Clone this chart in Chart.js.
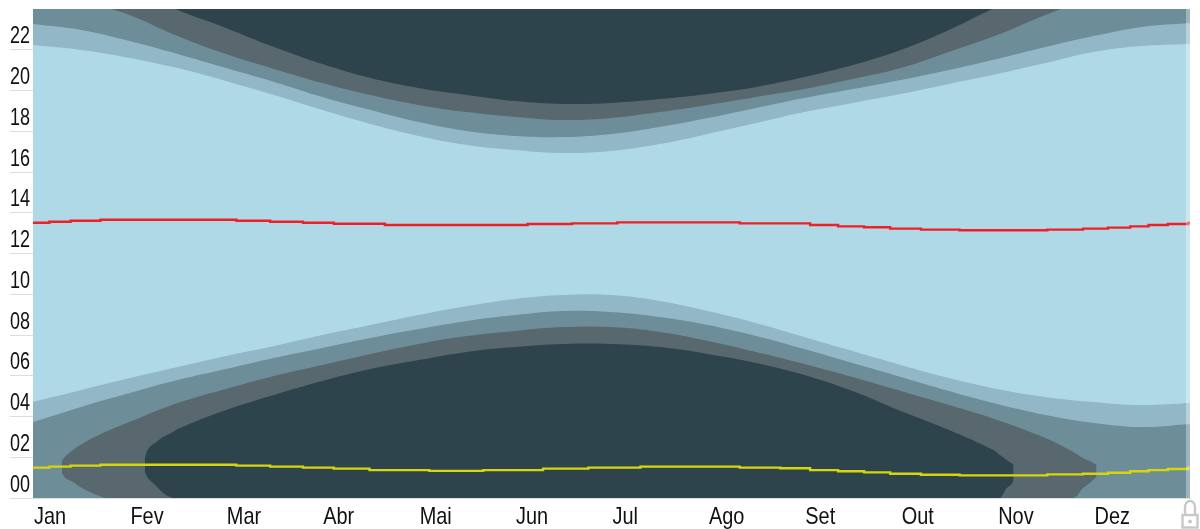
<!DOCTYPE html>
<html lang="pt">
<head>
  <meta charset="UTF-8">
  <title>Luz do dia</title>
  <style>
    html, body { margin: 0; padding: 0; background: #fff; overflow: hidden; }
    .chartBox { position: relative; width: 1200px; height: 529px; }
    .edgeStrip { position: absolute; left: 1186px; top: 9px; width: 4px; height: 489px; background: rgba(255, 255, 255, 0.35); }
    .lock { position: absolute; left: 1181px; top: 499px; }
  </style>
</head>
<body>
  <div class="chartBox">
    <canvas id="myChart"></canvas>
    <div class="edgeStrip"></div>
    <svg class="lock" width="18" height="30" viewBox="0 0 18 30">
      <path d="M4 16 V8 a5 6 0 0 1 10 0 V16" fill="none" stroke="#c8c8c8" stroke-width="2.4"/>
      <rect x="1.5" y="16" width="15" height="12.5" fill="none" stroke="#c8c8c8" stroke-width="2.4"/>
      <circle cx="9" cy="22.5" r="2" fill="#c8c8c8"/>
    </svg>
  </div>

<script src="https://cdn.jsdelivr.net/npm/chart.js/dist/chart.umd.min.js"></script>
<script>
  const monthLabels = ['Jan', 'Fev', 'Mar', 'Abr', 'Mai', 'Jun', 'Jul', 'Ago', 'Set', 'Out', 'Nov', 'Dez'];
  const hourTicks = ['00', '02', '04', '06', '08', '10', '12', '14', '16', '18', '20', '22', ''];

  // x in months (0 = start of Jan), y in hours of the day
  const gridMonths = [0, 0.5, 1, 1.5, 2, 2.5, 3, 3.5, 4, 4.5, 5, 5.5, 6, 6.5, 7, 7.5, 8, 8.5, 9, 9.5, 10, 10.5, 11, 11.5, 12];

  // morning edges
  const dawnLight = [4.71, 5.30, 5.89, 6.43, 6.97, 7.46, 8.00, 8.49, 8.98, 9.42, 9.77, 9.96, 9.96, 9.67, 9.18, 8.59, 7.90, 7.21, 6.53, 5.89, 5.35, 4.96, 4.71, 4.56, 4.66];
  const dawnCivil = [3.73, 4.47, 5.15, 5.79, 6.33, 6.87, 7.36, 7.85, 8.29, 8.69, 8.98, 9.18, 9.13, 8.88, 8.49, 7.95, 7.31, 6.62, 5.94, 5.25, 4.61, 4.07, 3.68, 3.48, 3.63];

  // evening edges (above 24 means past midnight)
  const duskLight = [22.23, 21.99, 21.60, 21.10, 20.47, 19.78, 19.04, 18.36, 17.77, 17.33, 17.08, 16.93, 17.03, 17.37, 17.87, 18.40, 18.94, 19.39, 19.83, 20.32, 20.81, 21.35, 21.89, 22.18, 22.28];
  const duskCivil = [23.26, 22.97, 22.43, 21.79, 21.10, 20.42, 19.68, 19.04, 18.45, 18.01, 17.77, 17.72, 17.87, 18.21, 18.65, 19.14, 19.63, 20.07, 20.52, 21.01, 21.55, 22.13, 22.67, 23.12, 23.31];
  const duskNautical = [25.5, 24.45, 23.71, 22.67, 21.79, 21.06, 20.37, 19.78, 19.29, 18.94, 18.70, 18.55, 18.65, 18.94, 19.29, 19.68, 20.07, 20.56, 21.10, 21.89, 22.72, 23.71, 24.5, 25, 25.5];
  const duskAstro = [28, 26, 25, 23.95, 23.07, 22.13, 21.30, 20.61, 20.12, 19.78, 19.48, 19.34, 19.39, 19.58, 19.83, 20.17, 20.66, 21.25, 21.99, 22.97, 24.1, 25, 26, 27, 28];

  // grey lens at the bottom
  const lensNauticalMonths = [0.30, 0.32, 0.35, 0.415, 0.49, 0.66, 0.77, 1, 1.5, 2, 2.5, 3, 3.5, 4, 4.5, 5, 5.5, 6, 6.5, 7, 7.5, 8, 8.5, 9, 9.5, 10, 10.5, 10.79, 10.89, 10.96, 11.03];
  const lensNauticalTop = [1.82, 1.96, 2.11, 2.36, 2.60, 3.04, 3.29, 3.73, 4.66, 5.35, 5.99, 6.53, 7.07, 7.56, 7.95, 8.20, 8.39, 8.39, 8.15, 7.71, 7.17, 6.58, 5.94, 5.25, 4.56, 3.83, 2.94, 2.26, 1.96, 1.81, 1.62];
  const lensNauticalBottom = [1.23, 1.08, 0.93, 0.79, 0.54, 0.15, 0, 0, 0, 0, 0, 0, 0, 0, 0, 0, 0, 0, 0, 0, 0, 0, 0, 0, 0, 0, 0, 0, 0.49, 0.74, 1.03];

  // dark lens at the bottom
  const lensAstroMonths = [1.16, 1.18, 1.21, 1.28, 1.35, 1.45, 1.5, 2, 2.5, 3, 3.5, 4, 4.5, 5, 5.5, 6, 6.5, 7, 7.5, 8, 8.5, 9, 9.5, 9.96, 10.03, 10.10, 10.15, 10.17];
  const lensAstroTop = [1.96, 2.26, 2.50, 2.75, 2.99, 3.24, 3.39, 4.32, 5.06, 5.74, 6.33, 6.77, 7.17, 7.41, 7.56, 7.56, 7.41, 7.07, 6.63, 6.04, 5.25, 4.27, 3.34, 2.36, 2.11, 1.86, 1.70, 1.62];
  const lensAstroBottom = [1.28, 1.08, 0.88, 0.59, 0.25, 0, 0, 0, 0, 0, 0, 0, 0, 0, 0, 0, 0, 0, 0, 0, 0, 0, 0, 0, 0, 0.49, 0.69, 0.88];

  // noon and midnight, stepped like the original
  const noonMonths = [0, 0.17, 0.39, 0.70, 2.11, 2.46, 2.80, 3.12, 3.65, 5.13, 5.59, 6.06, 7.33, 8.06, 8.35, 8.62, 8.89, 9.21, 9.61, 10.52, 10.89, 11.15, 11.38, 11.57, 11.77, 11.98, 12];
  const noonHours = [13.51, 13.56, 13.61, 13.66, 13.61, 13.56, 13.51, 13.46, 13.40, 13.45, 13.48, 13.53, 13.48, 13.40, 13.33, 13.29, 13.22, 13.17, 13.14, 13.17, 13.22, 13.27, 13.33, 13.40, 13.45, 13.50, 13.50];
  const midnightMonths = [0, 0.17, 0.39, 0.70, 2.11, 2.46, 2.80, 3.12, 3.49, 4.11, 4.67, 5.29, 5.76, 6.30, 7.33, 7.75, 8.06, 8.35, 8.62, 8.89, 9.21, 9.61, 10.52, 10.89, 11.15, 11.38, 11.57, 11.77, 11.98, 12];
  const midnightHours = [1.49, 1.54, 1.59, 1.63, 1.59, 1.54, 1.49, 1.44, 1.37, 1.33, 1.37, 1.44, 1.49, 1.54, 1.49, 1.46, 1.37, 1.31, 1.26, 1.19, 1.14, 1.11, 1.16, 1.19, 1.24, 1.31, 1.37, 1.42, 1.47, 1.47];

  const dayEdgeMonths = [0, 12];
  const dayEdgeHours = [24, 24];

  const colorDay = '#b0d9e7';
  const colorLight = '#92b8c8';
  const colorCivil = '#6d8d99';
  const colorNautical = '#59686e';
  const colorAstro = '#2e444d';

  const toPoints = (xs, ys) => xs.map((x, i) => ({ x, y: ys[i] }));

  const band = (xs, ys, color, fill) => ({
    data: toPoints(xs, ys),
    backgroundColor: color,
    borderWidth: 0,
    pointRadius: 0,
    tension: 0.4,
    fill
  });

  const stepLine = (xs, ys, color) => ({
    data: toPoints(xs, ys),
    borderColor: color,
    borderWidth: 2.4,
    pointRadius: 0,
    stepped: true,
    fill: false
  });

  // first in the list is painted on top
  const datasets = [
    stepLine(noonMonths, noonHours, '#ee2026'),
    stepLine(midnightMonths, midnightHours, '#d6d60b'),
    band(lensAstroMonths, lensAstroTop, colorAstro, { target: 3 }),
    band(lensAstroMonths, lensAstroBottom, 'transparent', false),
    band(lensNauticalMonths, lensNauticalTop, colorNautical, { target: 5 }),
    band(lensNauticalMonths, lensNauticalBottom, 'transparent', false),
    band(gridMonths, dawnCivil, colorCivil, 'start'),
    band(gridMonths, dawnLight, colorLight, 'start'),
    band(gridMonths, duskAstro, colorAstro, 'end'),
    band(gridMonths, duskNautical, colorNautical, 'end'),
    band(gridMonths, duskCivil, colorCivil, 'end'),
    band(gridMonths, duskLight, colorLight, 'end'),
    band(dayEdgeMonths, dayEdgeHours, colorDay, 'start')
  ];

  const axisFont = { family: '"Liberation Sans", sans-serif', size: 24 };

  const canvas = document.getElementById('myChart');

  // the original labels are squeezed sideways, no narrow font is installed
  const ctx = canvas.getContext('2d');
  const plainFillText = ctx.fillText.bind(ctx);
  ctx.fillText = (text, x, y) => {
    ctx.save();
    ctx.translate(x, y);
    ctx.scale(ctx.textAlign === 'right' ? 0.75 : 0.83, 1);
    plainFillText(text, 0, 0);
    ctx.restore();
  };

  new Chart(canvas, {
    type: 'scatter',
    data: { datasets: datasets.map(d => ({ showLine: true, ...d })) },
    options: {
      responsive: true,
      maintainAspectRatio: false,
      animation: false,
      layout: { padding: { top: 9, right: 10, left: 0, bottom: 0 } },
      plugins: { legend: { display: false }, tooltip: { enabled: false } },
      scales: {
        x: {
          type: 'linear',
          min: 0,
          max: 12,
          afterFit(axis) {
            axis.height = 31;
            axis.paddingLeft = 0;
            axis.paddingRight = 0;
          },
          border: { display: true, color: '#dddddd' },
          grid: { display: false },
          ticks: {
            stepSize: 1,
            autoSkip: false,
            maxRotation: 0,
            align: 'start',
            labelOffset: 1,
            padding: -3,
            color: '#111',
            font: axisFont,
            callback: v => monthLabels[v] || ''
          }
        },
        y: {
          min: 0,
          max: 24,
          afterFit(axis) {
            axis.width = 33;
          },
          border: { display: false },
          grid: {
            drawOnChartArea: false,
            tickLength: 23,
            color: c => (c.tick && c.tick.value === 24 ? 'transparent' : '#dddddd')
          },
          ticks: {
            stepSize: 2,
            autoSkip: false,
            labelOffset: -13,
            padding: -20,
            color: '#111',
            font: axisFont,
            callback: v => hourTicks[v / 2]
          }
        }
      }
    }
  });
</script>
</body>
</html>
